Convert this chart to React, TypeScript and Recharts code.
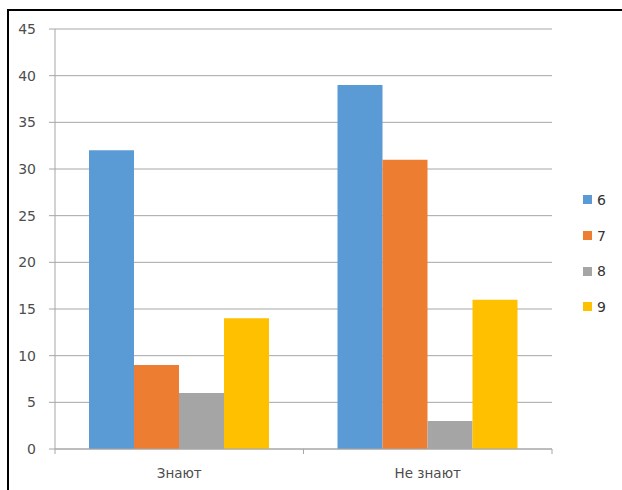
import { BarChart, Bar, XAxis, YAxis, CartesianGrid, Legend } from 'recharts';

const categories = ['Знают', 'Не знают'];
const grade6 = [32, 39];
const grade7 = [9, 31];
const grade8 = [6, 3];
const grade9 = [14, 16];
const yTicks = [0, 5, 10, 15, 20, 25, 30, 35, 40, 45];

const seriesNames = ['6', '7', '8', '9'];
const seriesColors = ['#5B9BD5', '#ED7D31', '#A5A5A5', '#FFC000'];

const data = categories.map((name, i) => ({
  name,
  s6: grade6[i],
  s7: grade7[i],
  s8: grade8[i],
  s9: grade9[i],
}));

const FONT = '"DejaVu Sans", sans-serif';
const AXIS_GRAY = '#A6A6A6';
const TEXT_GRAY = '#4D4D4D';

const PLOT_LEFT = 55;
const PLOT_RIGHT = 552;
const BAND = (PLOT_RIGHT - PLOT_LEFT) / categories.length;

function CategoryTick(props: any) {
  const { x, y, payload, index } = props;
  const half = BAND / 2;
  const isLast = index === categories.length - 1;
  return (
    <g>
      <line x1={x - half} x2={x - half} y1={y - 8} y2={y - 3} stroke={AXIS_GRAY} />
      {isLast && <line x1={x + half} x2={x + half} y1={y - 8} y2={y - 3} stroke={AXIS_GRAY} />}
      <text x={x} y={y + 21} textAnchor="middle" fill={TEXT_GRAY} fontSize={13.5} fontFamily={FONT}>
        {payload.value}
      </text>
    </g>
  );
}

function LegendBox() {
  return (
    <div style={{ fontFamily: FONT, fontSize: 14, color: '#333' }}>
      {seriesNames.map((n, i) => (
        <div key={n} style={{ display: 'flex', alignItems: 'center', height: 35.7 }}>
          <span style={{ display: 'inline-block', width: 9, height: 9, background: seriesColors[i], marginRight: 5 }} />
          <span>{n}</span>
        </div>
      ))}
    </div>
  );
}

export default function App() {
  return (
    <div style={{ position: 'fixed', left: 0, top: 0, width: 622, height: 490, overflow: 'hidden', background: '#fff' }}>
      <div
        style={{
          position: 'absolute',
          left: 7,
          top: 9,
          width: 660,
          height: 520,
          border: '2px solid #000',
        }}
      />
      <div style={{ position: 'absolute', left: 0, top: 0 }}>
        <BarChart
          width={622}
          height={490}
          data={data}
          margin={{ top: 29, right: 622 - PLOT_RIGHT, left: 0, bottom: 11 }}
          barCategoryGap={34}
          barGap={0}
        >
          <CartesianGrid vertical={false} stroke={AXIS_GRAY} />
          <XAxis
            dataKey="name"
            height={30}
            axisLine={{ stroke: AXIS_GRAY }}
            tickLine={false}
            tick={<CategoryTick />}
            interval={0}
          />
          <YAxis
            width={PLOT_LEFT}
            domain={[0, 45]}
            ticks={yTicks}
            interval={0}
            axisLine={{ stroke: AXIS_GRAY }}
            tickLine={{ stroke: AXIS_GRAY }}
            tickSize={6}
            tickMargin={13}
            tick={{ fill: TEXT_GRAY, fontSize: 14, fontFamily: FONT }}
          />
          <Legend
            layout="vertical"
            align="center"
            verticalAlign="middle"
            content={() => <LegendBox />}
            wrapperStyle={{ left: 583, top: 182, width: 40, height: 145 }}
          />
          <Bar dataKey="s6" name={seriesNames[0]} fill={seriesColors[0]} isAnimationActive={false} />
          <Bar dataKey="s7" name={seriesNames[1]} fill={seriesColors[1]} isAnimationActive={false} />
          <Bar dataKey="s8" name={seriesNames[2]} fill={seriesColors[2]} isAnimationActive={false} />
          <Bar dataKey="s9" name={seriesNames[3]} fill={seriesColors[3]} isAnimationActive={false} />
        </BarChart>
      </div>
    </div>
  );
}
